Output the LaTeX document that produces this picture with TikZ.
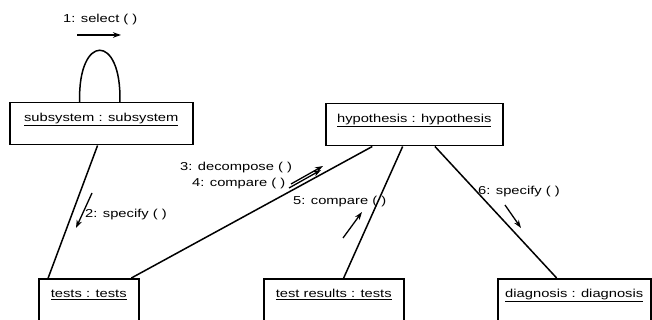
\documentclass[tikz,border=0pt]{standalone}
\usepackage{fontspec}
\setmainfont{Liberation Sans}[FakeStretch=1.28]
\usetikzlibrary{arrows.meta,calc}

\begin{document}
\begin{tikzpicture}[x=1pt,y=-1pt,
  obj/.style={draw, line width=1.5pt, rectangle, anchor=north west,
    inner xsep=0pt, inner ysep=3pt, text height=16pt, text depth=20pt,
    font=\fontsize{11.5}{13}\selectfont},
  link/.style={line width=1.5pt},
  msg/.style={line width=1.3pt, -{Stealth[length=8pt,width=5.5pt]}},
  lbl/.style={font=\fontsize{11.5}{13}\selectfont, inner sep=0pt, anchor=west}]
\useasboundingbox (0,0) rectangle (652,320);
\clip (0,0) rectangle (652,320);

% objects
\node[obj, minimum width=183pt] (sub)   at (9,102)   {\underline{subsystem : subsystem}};
\node[obj, minimum width=177pt] (hyp)   at (325,103) {\underline{hypothesis : hypothesis}};
\node[obj, minimum width=100pt] (tests) at (38,278)  {\underline{tests : tests}};
\node[obj, minimum width=140pt] (res)   at (263,278) {\underline{test results : tests}};
\node[obj, minimum width=153pt] (diag)  at (497,278) {\underline{diagnosis : diagnosis}};

% links
\draw[link] ($(sub.south west)!0.48!(sub.south east)$) -- ($(tests.north west)!0.10!(tests.north east)$);
\draw[link] ($(tests.north west)!0.92!(tests.north east)$) -- ($(hyp.south west)!0.265!(hyp.south east)$);
\draw[link] ($(res.north west)!0.57!(res.north east)$) -- ($(hyp.south west)!0.435!(hyp.south east)$);
\draw[link] ($(hyp.south west)!0.616!(hyp.south east)$) -- ($(diag.north west)!0.386!(diag.north east)$);

% self link
\coordinate (loopL) at ($(sub.north west)!0.383!(sub.north east)$);
\coordinate (loopR) at ($(sub.north west)!0.601!(sub.north east)$);
\draw[link] (loopL) .. controls ($(loopL)+(-2,-69)$) and ($(loopR)+(2,-69)$) .. (loopR);

% messages
\coordinate (m1a) at (77,35);   \coordinate (m1b) at (121,35);
\coordinate (m2a) at (92,193);  \coordinate (m2b) at (76,228);
\coordinate (m3a) at (291,184); \coordinate (m3b) at (323,166);
\coordinate (m4a) at (289,188); \coordinate (m4b) at (321,170);
\coordinate (m5a) at (343,238); \coordinate (m5b) at (362,212);
\coordinate (m6a) at (505,205); \coordinate (m6b) at (521,228);
\draw[msg] (m1a) -- (m1b);
\draw[msg] (m2a) -- (m2b);
\draw[msg] (m3a) -- (m3b);
\draw[msg] (m4a) -- (m4b);
\draw[msg] (m5a) -- (m5b);
\draw[msg] (m6a) -- (m6b);

% message labels
\node[lbl] (t1) at (63,20)   {1: select ( )};
\node[lbl] (t2) at (85,215)  {2: specify ( )};
\node[lbl] (t3) at (180,168) {3: decompose ( )};
\node[lbl] (t4) at (192,184) {4: compare ( )};
\node[lbl] (t5) at (293,202) {5: compare ( )};
\node[lbl] (t6) at (478,192) {6: specify ( )};
\end{tikzpicture}
\end{document}
